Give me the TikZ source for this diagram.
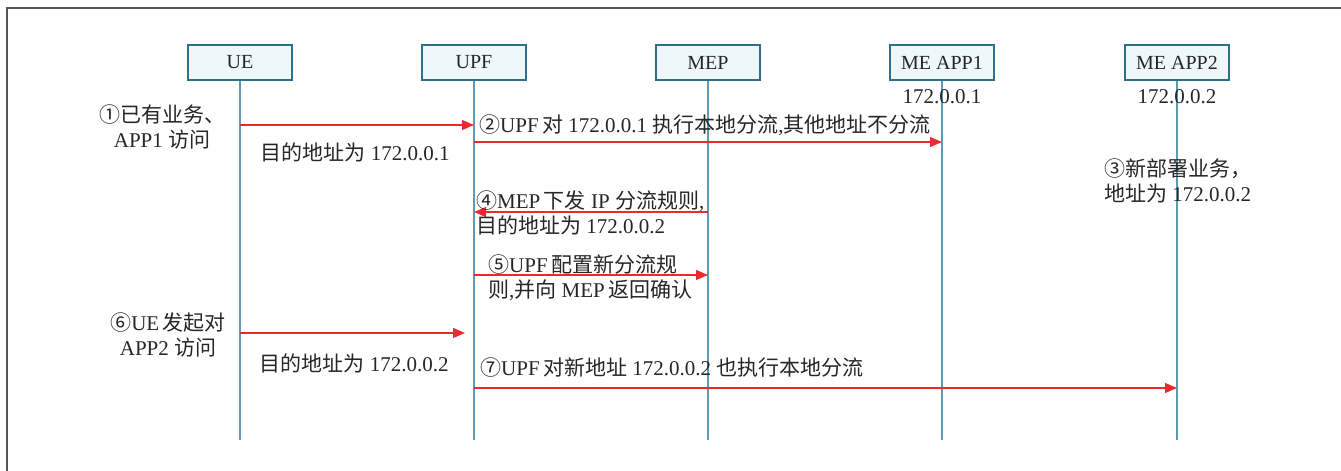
\documentclass[tikz,border=0pt]{standalone}
\usepackage{fontspec}
\setmainfont{Liberation Serif}
\newfontfamily\cjk{Noto Sans CJK SC}
\usetikzlibrary{arrows.meta}
\definecolor{boxfill}{HTML}{EEF7FC}
\definecolor{boxline}{HTML}{2F6F87}
\definecolor{life}{HTML}{5E9AB0}
\definecolor{msg}{HTML}{EC2A2E}
\definecolor{txt}{HTML}{262626}
\definecolor{framecol}{HTML}{555555}
\newcommand{\zh}[1]{{\cjk #1}}
\begin{document}
\begin{tikzpicture}[x=1pt,y=-1pt,
  every node/.style={font=\fontsize{21}{25}\selectfont, text=txt},
  entity/.style={draw=boxline, fill=boxfill, line width=1.2pt, minimum width=104pt, minimum height=35pt, inner sep=0pt, font=\fontsize{20}{24}\selectfont},
  lifeline/.style={draw=life, line width=1.2pt},
  msgarrow/.style={draw=msg, line width=1.2pt, -{Triangle[length=12pt,width=10pt]}},
  lbl/.style={inner sep=0pt, align=left},
  clbl/.style={inner sep=0pt, align=center},
]
\useasboundingbox (0,0) rectangle (1341,471);
\draw[framecol, line width=1.5pt] (7,475) -- (7,8) -- (1345,8);

% entities
\node[entity] (ue)   at (240,62.5) {UE};
\node[entity] (upf)  at (474,62.5) {UPF};
\node[entity] (mep)  at (708,62.5) {MEP};
\node[entity] (app1) at (942,62.5) {ME APP1};
\node[entity] (app2) at (1177,62.5) {ME APP2};

% lifeline ends
\coordinate (end) at (0,440);
\foreach \n in {ue,upf,mep,app1,app2}
  \draw[lifeline] (\n.south) -- (\n |- end);

% message rows
\coordinate (m1) at (0,125);
\coordinate (m2) at (0,142);
\coordinate (m4) at (0,212);
\coordinate (m5) at (0,275);
\coordinate (m6) at (0,333);
\coordinate (m7) at (0,388);

\draw[msgarrow] (ue |- m1) -- (upf |- m1);
\draw[msgarrow] (upf |- m2) -- (app1 |- m2);
\draw[msgarrow] (mep |- m4) -- (upf |- m4);
\draw[msgarrow] (upf |- m5) -- (mep |- m5);
\draw[msgarrow] (ue |- m6) -- ([xshift=-9pt]upf |- m6);
\draw[msgarrow] (upf |- m7) -- (app2 |- m7);

% labels
\node[clbl] (t1) at (162,127) {\zh{①已有业务、}\\APP1 \zh{访问}};
\node[clbl] (t1b) at (355,152) {\zh{目的地址为} 172.0.0.1};
\node[lbl, anchor=west] (t2) at (479,125) {\zh{②}UPF\,\zh{对} 172.0.0.1 \zh{执行本地分流},\zh{其他地址不分流}};
\node[clbl] (ip1) at (942,97) {172.0.0.1};
\node[clbl] (ip2) at (1177,97) {172.0.0.2};
\node[lbl, anchor=west] (t3) at (1104,181) {\zh{③新部署业务，}\\\zh{地址为} 172.0.0.2};
\node[lbl, anchor=west] (t4) at (476,212.5) {\zh{④}MEP\,\zh{下发} IP \zh{分流规则},\\\zh{目的地址为} 172.0.0.2};
\node[lbl, anchor=west] (t5) at (488,277.5) {\zh{⑤}UPF\,\zh{配置新分流规}\\\zh{则},\zh{并向} MEP\,\zh{返回确认}};
\node[clbl] (t6) at (168,335) {\zh{⑥}UE\,\zh{发起对}\\APP2 \zh{访问}};
\node[clbl] (t6b) at (354,363) {\zh{目的地址为} 172.0.0.2};
\node[lbl, anchor=west] (t7) at (480,368) {\zh{⑦}UPF\,\zh{对新地址} 172.0.0.2 \zh{也执行本地分流}};
\end{tikzpicture}
\end{document}
